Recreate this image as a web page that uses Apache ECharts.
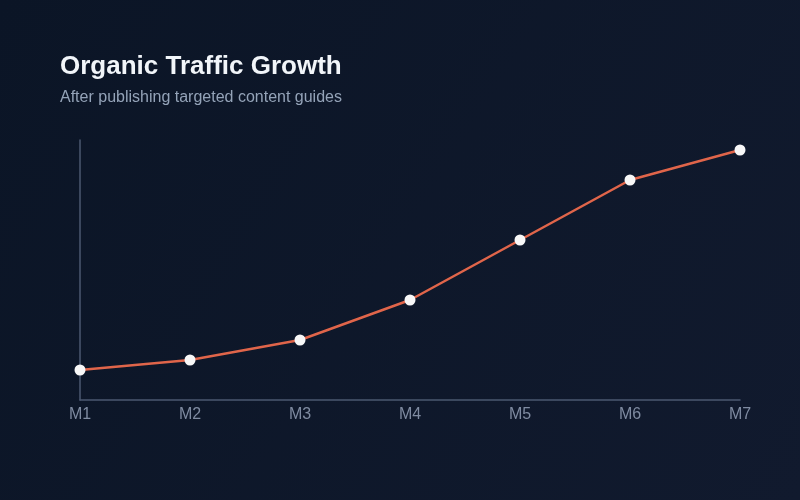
<!DOCTYPE html>
<html><head><meta charset="utf-8">
<script src="https://cdn.jsdelivr.net/npm/echarts@6/dist/echarts.min.js"></script>
<style>html,body{margin:0;padding:0;background:#0d1628;}#c{width:800px;height:500px;}</style>
</head><body><div id="c"></div>
<script>
const categories = ['M1','M2','M3','M4','M5','M6','M7'];
const traffic = [30, 40, 60, 100, 160, 220, 250];
const chart = echarts.init(document.getElementById('c'));
chart.setOption({
  backgroundColor: {type:'linear', x:0, y:0, x2:1, y2:1, colorStops:[{offset:0,color:'#0b1526'},{offset:1,color:'#111a2e'}]},
  title: {
    text: 'Organic Traffic Growth',
    subtext: 'After publishing targeted content guides',
    left: 60, top: 54, padding: 0,
    itemGap: 10,
    textStyle: {color:'#f1f5f9', fontSize:26, fontWeight:'bold', fontFamily:'Liberation Sans'},
    subtextStyle: {color:'#94a3b8', fontSize:16, fontFamily:'Liberation Sans'}
  },
  grid: {left:80, right:60, top:140, bottom:100},
  xAxis: {
    type:'category', data: categories, boundaryGap:false,
    axisLine:{lineStyle:{color:'#4b5870', width:1.5}},
    axisTick:{show:false},
    axisLabel:{color:'#7f8ba1', fontSize:16, margin:7, fontFamily:'Liberation Sans'},
    splitLine:{show:false}
  },
  yAxis: {
    type:'value', min:0, max:260,
    axisLine:{show:true, lineStyle:{color:'#4b5870', width:1.5}},
    axisTick:{show:false}, axisLabel:{show:false}, splitLine:{show:false}
  },
  series: [{
    type:'line', data: traffic,
    symbol:'circle', symbolSize:11,
    lineStyle:{color:'#e0654a', width:2.5},
    itemStyle:{color:'#f8f8f8', borderWidth:0},
    z:3
  }]
});
</script></body></html>
